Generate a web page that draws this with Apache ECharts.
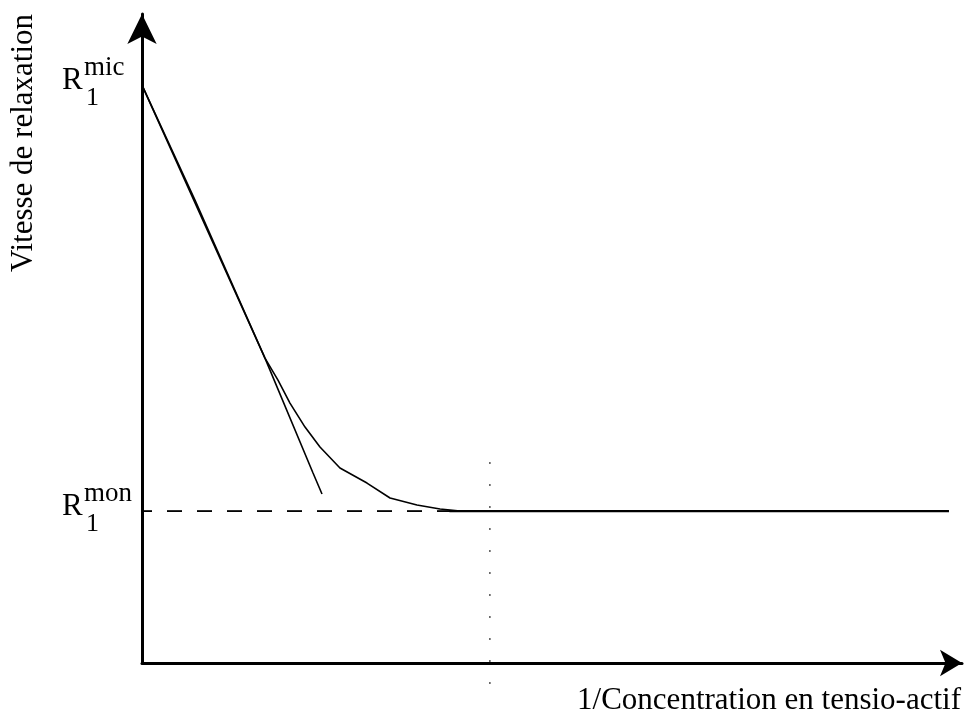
<!DOCTYPE html>
<html>
<head>
<meta charset="utf-8">
<script src="https://cdn.jsdelivr.net/npm/echarts@6/dist/echarts.min.js"></script>
<style>
html,body{margin:0;padding:0;background:#fff;}
#chart{width:971px;height:717px;}
</style>
</head>
<body>
<div id="chart"></div>
<script>
// ---- data (arbitrary units) ----
const xRange = [0, 10.136];
const yRange = [0, 10.24];
const curveX = [0, 0.655, 1.52, 1.681, 1.829, 2.015, 2.2, 2.447, 2.781, 3.066, 3.399, 3.684, 3.931];
const curveY = [9.117, 7.303, 4.811, 4.464, 4.101, 3.722, 3.407, 3.076, 2.839, 2.603, 2.492, 2.429, 2.397];
const plateauX = [3.8, 9.975];
const tangentX = [0, 1.52, 2.114, 2.225];
const tangentY = [9.117, 4.811, 2.997, 2.666];
const rMic = 9.117;
const rMon = 2.397;
const dashedX = [0, 3.93];
const dottedX = 4.30;
const dottedY = [3.17, -0.43];
const levelLabels = [
  { value: rMic, main: 'R', sup: 'mic', sub: '1' },
  { value: rMon, main: 'R', sup: 'mon', sub: '1' }
];
const yTitle = 'Vitesse de relaxation';
const xTitle = '1/Concentration en tensio-actif';

const FONT = '"Liberation Serif", "Times New Roman", serif';

const chart = echarts.init(document.getElementById('chart'), null, { renderer: 'canvas' });

const zip = (xs, ys) => xs.map((x, i) => [x, ys[i]]);

const option = {
  animation: false,
  backgroundColor: '#fff',
  grid: { left: 142, right: 9, top: 14, bottom: 54 },
  xAxis: {
    type: 'value', min: xRange[0], max: xRange[1],
    axisLine: { show: true, onZero: false, symbol: ['none', 'arrow'], symbolSize: [20, 22],
      lineStyle: { color: '#000', width: 3 } },
    axisTick: { show: false }, axisLabel: { show: false }, splitLine: { show: false }
  },
  yAxis: {
    type: 'value', min: yRange[0], max: yRange[1],
    axisLine: { show: true, onZero: false, symbol: ['none', 'arrow'], symbolSize: [22, 30],
      lineStyle: { color: '#000', width: 3 } },
    axisTick: { show: false }, axisLabel: { show: false }, splitLine: { show: false }
  },
  series: [
    {
      type: 'line', data: dashedX.map(x => [x, rMon]), symbol: 'none', clip: false, silent: true,
      lineStyle: { color: '#000', width: 1.8, type: [15, 15], dashOffset: 5 }
    },
    {
      type: 'line', data: [[dottedX, dottedY[0]], [dottedX, dottedY[1]]], symbol: 'none', clip: false, silent: true,
      lineStyle: { color: '#555', width: 1.5, type: [2, 20] }
    },
    {
      type: 'line', data: zip(tangentX, tangentY), symbol: 'none', clip: false, silent: true,
      lineStyle: { color: '#000', width: 1.6 }
    },
    {
      type: 'line', data: zip(curveX, curveY), symbol: 'none', clip: false, silent: true,
      lineStyle: { color: '#000', width: 1.6, join: 'round' }
    },
    {
      type: 'line', data: plateauX.map(x => [x, rMon]), symbol: 'none', clip: false, silent: true,
      lineStyle: { color: '#000', width: 2.3 }
    }
  ]
};
chart.setOption(option);

// ---- text elements positioned from the axis scale ----
const graphics = [];
levelLabels.forEach(l => {
  const p = chart.convertToPixel({ gridIndex: 0 }, [0, l.value]);
  const py = p[1];
  graphics.push({ type: 'text', x: 62, y: py - 4, silent: true,
    style: { text: l.main, font: '31px ' + FONT, fill: '#000', align: 'left', verticalAlign: 'middle' } });
  graphics.push({ type: 'text', x: 84, y: py - 17, silent: true,
    style: { text: l.sup, font: '27px ' + FONT, fill: '#000', align: 'left', verticalAlign: 'middle' } });
  graphics.push({ type: 'text', x: 86, y: py + 13, silent: true,
    style: { text: l.sub, font: '26px ' + FONT, fill: '#000', align: 'left', verticalAlign: 'middle' } });
});
graphics.push({ type: 'text', x: 24, y: 143, rotation: Math.PI / 2, silent: true,
  style: { text: yTitle, font: '31px ' + FONT, fill: '#000', align: 'center', verticalAlign: 'middle' } });
graphics.push({ type: 'text', x: 961, y: 701, silent: true,
  style: { text: xTitle, font: '31px ' + FONT, fill: '#000', align: 'right', verticalAlign: 'middle' } });
chart.setOption({ graphic: { elements: graphics } });
</script>
</body>
</html>
